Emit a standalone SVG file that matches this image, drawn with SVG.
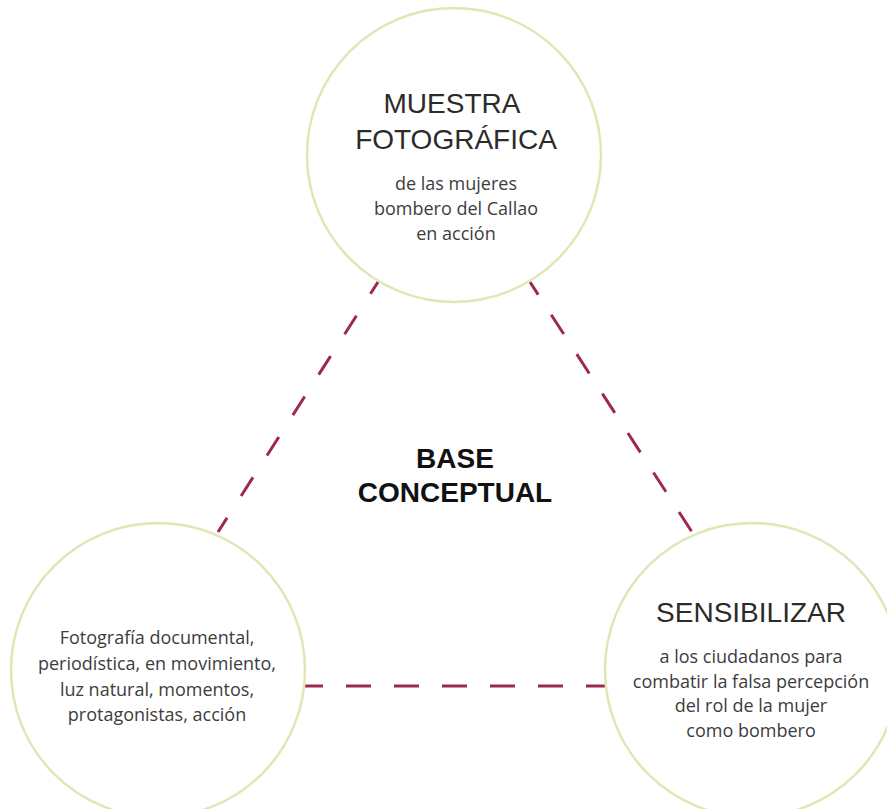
<svg xmlns="http://www.w3.org/2000/svg" width="887" height="809" viewBox="0 0 887 809">
<style>
.node circle{fill:#ffffff;stroke:#e0e7b5;stroke-width:2.5}
.conn line{stroke:#9e2850;stroke-width:3;fill:none}
.h{font-family:"Liberation Sans",Arial,sans-serif;font-size:28px;fill:#2b2b2b;text-anchor:middle}
.s{font-family:"Open Sans","Noto Sans",sans-serif;font-size:18px;fill:#3d3d3d;text-anchor:middle}
.b{font-family:"Liberation Sans",Arial,sans-serif;font-size:28px;font-weight:bold;fill:#111111;text-anchor:middle}
</style>
<rect width="887" height="809" fill="#ffffff"/>
<g class="conn">
<line x1="378" y1="282" x2="218" y2="532" stroke-dasharray="22 26" stroke-dashoffset="8"/>
<line x1="530" y1="282" x2="692" y2="532" stroke-dasharray="23 24" stroke-dashoffset="8"/>
<line x1="305" y1="686" x2="606" y2="686" stroke-dasharray="25 23" stroke-dashoffset="7"/>
</g>
<g id="muestra" class="node">
<circle cx="454" cy="155" r="147"/>
<text class="h" x="452" y="113">MUESTRA</text>
<text class="h" x="456" y="149">FOTOGRÁFICA</text>
<text class="s" x="456" y="190">de las mujeres</text>
<text class="s" x="456" y="215">bombero del Callao</text>
<text class="s" x="456" y="240">en acción</text>
</g>
<g id="fotografia" class="node">
<circle cx="158" cy="670" r="147"/>
<text class="s" x="157" y="644">Fotografía documental,</text>
<text class="s" x="157" y="670">periodística, en movimiento,</text>
<text class="s" x="157" y="696">luz natural, momentos,</text>
<text class="s" x="157" y="721">protagonistas, acción</text>
</g>
<g id="sensibilizar" class="node">
<circle cx="752" cy="670" r="147"/>
<text class="h" x="751" y="622">SENSIBILIZAR</text>
<text class="s" x="751" y="663">a los ciudadanos para</text>
<text class="s" x="751" y="688">combatir la falsa percepción</text>
<text class="s" x="751" y="712">del rol de la mujer</text>
<text class="s" x="751" y="737">como bombero</text>
</g>
<g id="base">
<text class="b" x="455" y="468">BASE</text>
<text class="b" x="455" y="502">CONCEPTUAL</text>
</g>
</svg>
